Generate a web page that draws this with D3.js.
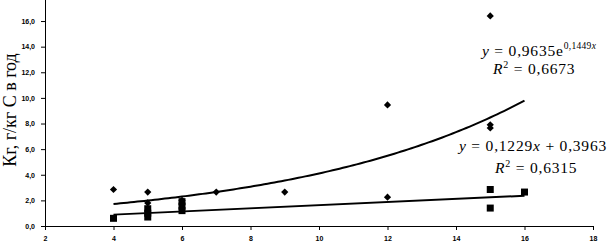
<!DOCTYPE html>
<html lang="ru">
<head>
  <meta charset="UTF-8">
  <title>Кг vs x</title>
  <script src="https://d3js.org/d3.v7.min.js"></script>
  <style>
    body { margin: 0; background: #fff; }
    .tick text { font-family: "Liberation Sans", Arial, sans-serif; font-weight: bold; font-size: 7px; fill: #000; }
    .eq { font-family: "Liberation Serif", "Times New Roman", serif; font-size: 15.5px; letter-spacing: 0.8px; }
  </style>
</head>
<body>
  <svg width="608" height="242"></svg>
  <script>
    // diamonds series (exponential trend)
    const diamondX = [4, 5, 5, 6, 7, 9, 12, 12, 15, 15, 15];
    const diamondY = [2.85, 2.65, 1.8, 2.0, 2.65, 2.65, 9.45, 2.25, 16.4, 7.9, 7.65];
    // squares series (linear trend)
    const squareX = [4, 5, 5, 5, 6, 6, 6, 15, 15, 16];
    const squareY = [0.6, 0.7, 1.0, 1.35, 1.2, 1.55, 1.9, 2.85, 1.4, 2.65];
    const xTicks = [2, 4, 6, 8, 10, 12, 14, 16, 18];
    const yTicks = [0, 2, 4, 6, 8, 10, 12, 14, 16];
    const expFit = {a: 0.9635, b: 0.1449, r2: "0,6673"};
    const linFit = {k: 0.1229, c: 0.3963, r2: "0,6315"};
    const fitRange = [4, 16];

    const svg = d3.select("svg");
    const x = d3.scaleLinear().domain([2, 18]).range([45, 593]);
    const y = d3.scaleLinear().domain([0, 18]).range([226, 226 - 18 * 12.81]);
    const fmt = d => d3.format(".1f")(d).replace(".", ",");
    const comma = v => String(v).replace(".", ",");

    // axes
    svg.append("g")
      .attr("transform", `translate(0,${y(0)})`)
      .call(d3.axisBottom(x).tickValues(xTicks).tickSize(4).tickSizeOuter(0).tickPadding(6))
      .call(g => g.selectAll("path, line").attr("stroke", "#000"));

    svg.append("g")
      .attr("transform", `translate(${x(2)},0)`)
      .call(d3.axisLeft(y).tickValues(yTicks).tickFormat(fmt).tickSize(4).tickSizeOuter(0).tickPadding(6))
      .call(g => g.selectAll("path, line").attr("stroke", "#000"));

    // trend lines
    const xs = d3.range(fitRange[0], fitRange[1] + 0.001, 0.1);
    const line = d3.line().x(d => x(d[0])).y(d => y(d[1]));
    svg.append("path")
      .datum(xs.map(v => [v, expFit.a * Math.exp(expFit.b * v)]))
      .attr("d", line).attr("fill", "none").attr("stroke", "#000").attr("stroke-width", 2);
    svg.append("path")
      .datum(fitRange.map(v => [v, linFit.k * v + linFit.c]))
      .attr("d", line).attr("fill", "none").attr("stroke", "#000").attr("stroke-width", 2);

    // markers
    svg.selectAll(".dia")
      .data(diamondX.map((v, i) => [v, diamondY[i]]))
      .enter().append("path")
      .attr("d", d3.symbol(d3.symbolSquare, 26)())
      .attr("transform", d => `translate(${x(d[0])},${y(d[1])}) rotate(45)`)
      .attr("fill", "#000");
    svg.selectAll(".sq")
      .data(squareX.map((v, i) => [v, squareY[i]]))
      .enter().append("path")
      .attr("d", d3.symbol(d3.symbolSquare, 49)())
      .attr("transform", d => `translate(${x(d[0])},${y(d[1])})`)
      .attr("fill", "#000");

    // equations
    const eq1 = svg.append("text").attr("class", "eq").attr("x", 482).attr("y", 56);
    eq1.append("tspan").attr("font-style", "italic").text("y");
    eq1.append("tspan").text(` = ${comma(expFit.a)}e`);
    eq1.append("tspan").attr("font-size", "9.5px").attr("dy", -7).attr("letter-spacing", "0.3px").text(comma(expFit.b));
    eq1.append("tspan").attr("font-size", "9.5px").attr("font-style", "italic").text("x");
    const r1 = svg.append("text").attr("class", "eq").attr("x", 493).attr("y", 74);
    r1.append("tspan").attr("font-style", "italic").text("R");
    r1.append("tspan").attr("font-size", "10px").attr("dy", -6).text("2");
    r1.append("tspan").attr("dy", 6).text(` = ${expFit.r2}`);

    const eq2 = svg.append("text").attr("class", "eq").attr("x", 459).attr("y", 151);
    eq2.append("tspan").attr("font-style", "italic").text("y");
    eq2.append("tspan").text(` = ${comma(linFit.k)}`);
    eq2.append("tspan").attr("font-style", "italic").text("x");
    eq2.append("tspan").text(` + ${comma(linFit.c)}`);
    const r2 = svg.append("text").attr("class", "eq").attr("x", 495).attr("y", 173);
    r2.append("tspan").attr("font-style", "italic").text("R");
    r2.append("tspan").attr("font-size", "10px").attr("dy", -6).text("2");
    r2.append("tspan").attr("dy", 6).text(` = ${linFit.r2}`);

    // y axis title
    svg.append("text")
      .attr("transform", "translate(16,110) rotate(-90)")
      .attr("text-anchor", "middle")
      .attr("font-family", "Liberation Serif, Times New Roman, serif")
      .attr("font-size", "18px")
      .text("Кг, г/кг С в год");
  </script>
</body>
</html>
